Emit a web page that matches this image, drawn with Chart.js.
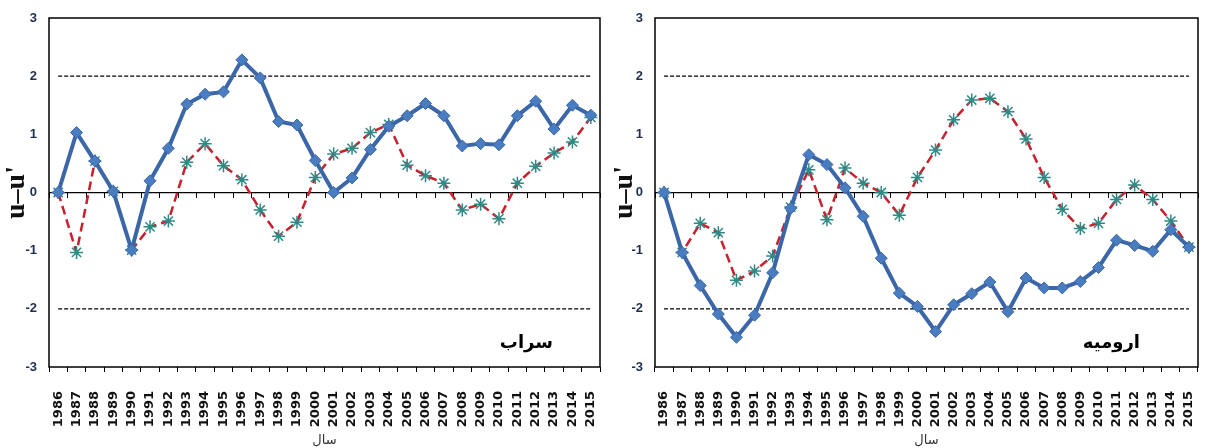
<!DOCTYPE html>
<html>
<head>
<meta charset="utf-8">
<script src="https://cdn.jsdelivr.net/npm/chart.js@4/dist/chart.umd.min.js"></script>
<style>
  html, body { margin: 0; padding: 0; background: #fff; }
  #wrap { position: relative; width: 1206px; height: 448px; overflow: hidden; }
  .panel { position: absolute; top: 0; height: 448px; }
  #p1 { left: 0; width: 608px; }
  #p2 { left: 608px; width: 598px; }
</style>
</head>
<body>
<div id="wrap">
  <div class="panel" id="p1"><canvas id="c1"></canvas></div>
  <div class="panel" id="p2"><canvas id="c2"></canvas></div>
</div>
<script>
// Years on the horizontal axis
const years = ['1986','1987','1988','1989','1990','1991','1992','1993','1994','1995',
               '1996','1997','1998','1999','2000','2001','2002','2003','2004','2005',
               '2006','2007','2008','2009','2010','2011','2012','2013','2014','2015'];

// Sarab station: forward statistic u (solid) and backward statistic u' (dashed)
const sarabU = [0, 1.03, 0.54, 0.02, -0.99, 0.20, 0.76, 1.52, 1.69, 1.73,
                2.28, 1.97, 1.22, 1.16, 0.55, 0.00, 0.25, 0.74, 1.14, 1.32,
                1.53, 1.32, 0.80, 0.84, 0.82, 1.32, 1.57, 1.09, 1.50, 1.33];
const sarabUPrime = [0, -1.03, 0.54, 0.02, -0.99, -0.59, -0.49, 0.52, 0.84, 0.46,
                     0.22, -0.30, -0.75, -0.51, 0.26, 0.66, 0.76, 1.03, 1.17, 0.47,
                     0.29, 0.16, -0.30, -0.20, -0.45, 0.16, 0.45, 0.68, 0.87, 1.29];

// Urmia station
const urmiaU = [0, -1.03, -1.60, -2.09, -2.49, -2.11, -1.38, -0.27, 0.65, 0.48,
                0.08, -0.41, -1.13, -1.73, -1.96, -2.39, -1.93, -1.74, -1.54, -2.05,
                -1.47, -1.64, -1.64, -1.53, -1.29, -0.82, -0.91, -1.01, -0.64, -0.94];
const urmiaUPrime = [0, -1.03, -0.53, -0.69, -1.51, -1.35, -1.09, -0.25, 0.39, -0.47,
                     0.42, 0.16, 0.00, -0.39, 0.26, 0.73, 1.25, 1.59, 1.62, 1.39,
                     0.92, 0.26, -0.29, -0.62, -0.53, -0.12, 0.13, -0.12, -0.49, -0.94];

// Significance limits (±1.96 ≈ ±2) and y-axis ticks
const limits = [2, -2];
const yTicks = [-3, -2, -1, 0, 1, 2, 3];

// Frame, zero-line tick marks and the station name inside the plot
const panelDecor = {
  id: 'panelDecor',
  beforeDatasetsDraw(chart) {
    const { ctx, scales: { x, y } } = chart;
    const y0 = Math.round(y.getPixelForValue(0));
    const n = x.ticks.length;
    const step = (x.right - x.left) / n;
    ctx.save();
    ctx.strokeStyle = '#000';
    ctx.lineWidth = 1;
    for (let i = 0; i <= n; i++) {
      const px = Math.round(x.left + i * step) + 0.5;
      ctx.beginPath();
      ctx.moveTo(px, y0);
      ctx.lineTo(px, y0 + 5);
      ctx.stroke();
    }
    ctx.restore();
  },
  afterDraw(chart, args, opts) {
    const { ctx, chartArea: a } = chart;
    ctx.save();
    ctx.strokeStyle = '#000';
    ctx.lineWidth = 1.5;
    ctx.strokeRect(a.left, a.top, a.right - a.left, a.bottom - a.top);
    ctx.fillStyle = '#000';
    ctx.font = 'bold 18px "DejaVu Sans"';
    ctx.textAlign = 'right';
    ctx.textBaseline = 'middle';
    ctx.fillText(opts.name, a.right - opts.nameInset, a.bottom - 24);
    ctx.restore();
  }
};

function makeChart(id, name, nameInset, seriesU, seriesUPrime, axisWidth, rightPad) {
  const first = years[0], last = years[years.length - 1];
  const limitSets = limits.map(v => ({
    data: [{ x: first, y: v }, { x: last, y: v }],
    borderColor: '#000',
    borderWidth: 1.2,
    borderDash: [4, 2],
    pointRadius: 0,
    fill: false,
    order: 2
  }));
  return new Chart(document.getElementById(id), {
    type: 'line',
    data: {
      labels: years,
      datasets: [
        {
          data: seriesU,
          borderColor: '#3b67a8',
          borderWidth: 4,
          pointStyle: 'rectRot',
          pointRadius: 6,
          pointBackgroundColor: '#4a7cc0',
          pointBorderColor: '#3b67a8',
          pointBorderWidth: 1,
          tension: 0,
          order: 0
        },
        {
          data: seriesUPrime,
          borderColor: '#c8202c',
          borderWidth: 2.5,
          borderDash: [9, 5],
          pointStyle: 'star',
          pointRadius: 6.5,
          pointBorderColor: '#2f8a86',
          pointBackgroundColor: '#2f8a86',
          pointBorderWidth: 1.5,
          tension: 0,
          order: 1
        },
        ...limitSets
      ]
    },
    options: {
      responsive: true,
      maintainAspectRatio: false,
      animation: false,
      devicePixelRatio: 1,
      layout: { padding: { top: 18, right: rightPad, left: 0, bottom: 0 } },
      plugins: {
        legend: { display: false },
        tooltip: { enabled: false },
        panelDecor: { name: name, nameInset: nameInset }
      },
      scales: {
        x: {
          type: 'category',
          offset: true,
          grid: { offset: true, drawOnChartArea: false, drawTicks: true, tickLength: 5, color: '#000', lineWidth: 1 },
          border: { display: false },
          ticks: {
            autoSkip: false, minRotation: 90, maxRotation: 90, padding: 19,
            color: '#111',
            font: { family: 'DejaVu Sans', weight: 'bold', size: 13 }
          },
          title: {
            display: true, text: 'سال', color: '#333',
            font: { family: 'DejaVu Sans', size: 13 },
            padding: { top: 0, bottom: 0 }
          },
          afterFit(s) {
            s.height = 81;
            s.paddingLeft = 0;
            s.paddingRight = 0;
          }
        },
        y: {
          min: yTicks[0],
          max: yTicks[yTicks.length - 1],
          afterBuildTicks(s) { s.ticks = yTicks.map(v => ({ value: v })); },
          grid: {
            drawTicks: false,
            color: c => (c.tick && c.tick.value === 0) ? '#000' : 'rgba(0,0,0,0)',
            lineWidth: 1.3
          },
          border: { display: false },
          ticks: {
            padding: 12, color: '#1f2d50',
            font: { family: 'Liberation Sans', weight: 'bold', size: 13 }
          },
          title: {
            display: true, text: "u\u2013u'", color: '#111',
            font: { family: 'Liberation Serif', weight: 'bold', size: 28 },
            padding: { top: 0, bottom: 0 }
          },
          afterFit(s) {
            s.width = axisWidth;
            s.paddingTop = 0;
            s.paddingBottom = 0;
          }
        }
      }
    },
    plugins: [panelDecor]
  });
}

makeChart('c1', 'سراب', 47, sarabU, sarabUPrime, 49, 4);
makeChart('c2', 'ارومیه', 58, urmiaU, urmiaUPrime, 47, 3);
</script>
</body>
</html>
